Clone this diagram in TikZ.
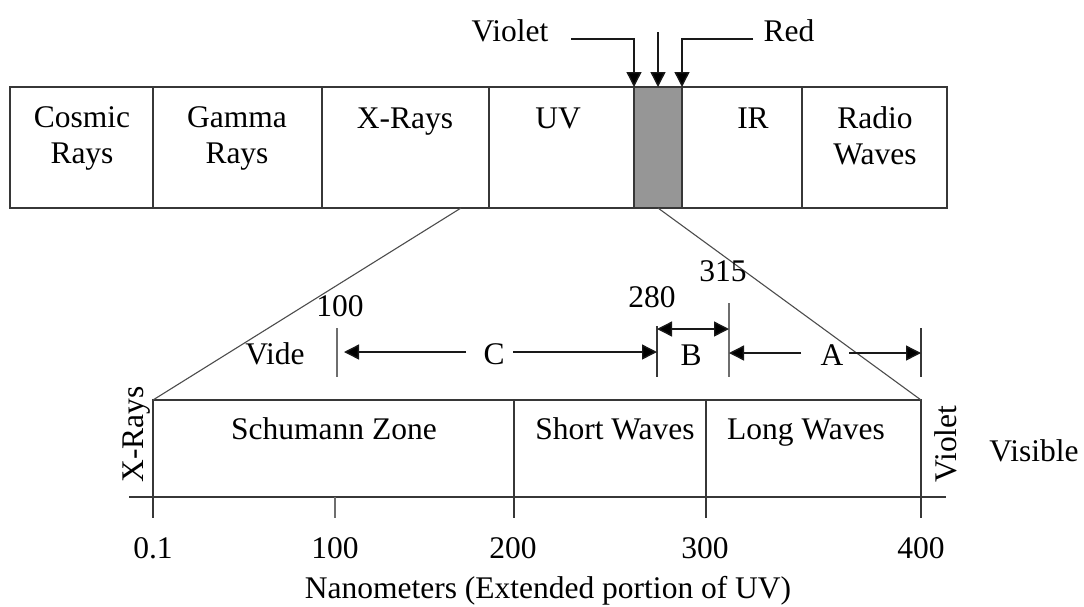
\documentclass[tikz,border=0pt]{standalone}
\usepackage{fontspec}
\setmainfont{Liberation Serif}
\usetikzlibrary{arrows.meta}
\definecolor{lineclr}{RGB}{55,55,55}
\definecolor{visfill}{RGB}{150,150,150}
\definecolor{tickgray}{RGB}{110,110,110}
\begin{document}
\begin{tikzpicture}[x=1pt,y=-1pt,
  ln/.style={line width=1.4pt, draw=lineclr},
  cell/.style={draw=lineclr, line width=1.4pt, anchor=north west, inner sep=0pt, outer sep=0pt},
  topcell/.style={cell, minimum height=121pt},
  botcell/.style={cell, minimum height=97pt},
  lbl/.style={font=\fontsize{31.5}{36}\selectfont, inner sep=0pt, outer sep=0pt, align=center, text=black},
  tip/.tip={Triangle[length=15pt,width=15pt,fill=black]},
  arr/.style={line width=1.4pt, draw=black!90, -tip},
  darr/.style={line width=1.4pt, draw=black!90, tip-tip},
  zoomline/.style={line width=1.1pt, draw=black!70},
  dimtick/.style={line width=1.4pt, draw=lineclr},
  graytick/.style={line width=1.4pt, draw=tickgray}
]
\useasboundingbox (0,0) rectangle (1084,606);

% ---- top spectrum bar ----
\node[topcell, minimum width=143pt] (cosmic) at (10,87) {};
\node[topcell, minimum width=169pt] (gamma) at (153,87) {};
\node[topcell, minimum width=167pt] (xray) at (322,87) {};
\node[topcell, minimum width=145pt] (uv) at (489,87) {};
\node[topcell, minimum width=48pt, fill=visfill] (vis) at (634,87) {};
\node[topcell, minimum width=120pt] (ir) at (682,87) {};
\node[topcell, minimum width=145pt] (radio) at (802,87) {};

\node[lbl, anchor=north] (tcosmic) at (82,106.5) {Cosmic\\Rays};
\node[lbl, anchor=north] (tgamma) at (237,106.5) {Gamma\\Rays};
\node[lbl, anchor=base] (txray) at (405,128) {X-Rays};
\node[lbl, anchor=base] (tuv) at (558,128) {UV};
\node[lbl, anchor=base] (tir) at (753,128) {IR};
\node[lbl, anchor=north] (tradio) at (875,106.5) {Radio\\Waves};

% ---- Violet / Red arrows ----
\node[lbl, anchor=base] (tviolet) at (510,41) {Violet};
\node[lbl, anchor=base] (tred) at (789,41) {Red};
\coordinate (vstart) at (571,39);
\coordinate (mstart) at (658,32);
\coordinate (rstart) at (753,39);
\draw[arr] (vstart) -| (vis.north west);
\draw[arr] (mstart) -- (vis.north);
\draw[arr] (rstart) -| (vis.north east);

% ---- bottom expanded UV box ----
\node[botcell, minimum width=361pt] (schu) at (153,400) {};
\node[botcell, minimum width=192pt] (short) at (514,400) {};
\node[botcell, minimum width=215pt] (long) at (706,400) {};

\node[lbl, anchor=base] (tschu) at (334,439) {Schumann Zone};
\node[lbl, anchor=base] (tshort) at (615,439) {Short Waves};
\node[lbl, anchor=base] (tlong) at (806,439) {Long Waves};

% zoom lines
\coordinate (zstart) at (461,208);
\draw[zoomline] (zstart) -- (schu.north west);
\draw[zoomline] (vis.south) -- (long.north east);

% side labels
\node[lbl, anchor=base, rotate=90] (txside) at (143.5,434.5) {X-Rays};
\node[lbl, anchor=base, rotate=90] (tvside) at (956.5,444) {Violet};
\node[lbl, anchor=base] (tvisible) at (1034,461) {Visible};

% ---- axis ----
\coordinate (axl) at (129,497);
\coordinate (axr) at (946,497);
\draw[ln] (axl) -- (axr);
\coordinate (a0) at (153,518);
\coordinate (a100) at (335,518);
\coordinate (a200) at (514,518);
\coordinate (a300) at (706,518);
\coordinate (a400) at (921,518);
\draw[ln] (schu.south west) -- (a0);
\draw[graytick] (a100 |- axl) -- (a100);
\draw[ln] (schu.south east) -- (a200);
\draw[ln] (short.south east) -- (a300);
\draw[ln] (long.south east) -- (a400);

\node[lbl, anchor=base] (n0) at (153,558) {0.1};
\node[lbl, anchor=base] (n100) at (335,558) {100};
\node[lbl, anchor=base] (n200) at (513,558) {200};
\node[lbl, anchor=base] (n300) at (705,558) {300};
\node[lbl, anchor=base] (n400) at (921,558) {400};
\node[lbl, anchor=base] (tnano) at (548,598) {Nanometers (Extended portion of UV)};

% ---- range markers ----
\coordinate (k100t) at (337,328); \coordinate (k100b) at (337,377);
\coordinate (k280t) at (657,326); \coordinate (k280b) at (657,377);
\coordinate (k315t) at (729,303); \coordinate (k315b) at (729,377);
\coordinate (k400t) at (921,328); \coordinate (k400b) at (921,377);
\draw[graytick] (k100t) -- (k100b);
\draw[dimtick] (k280t) -- (k280b);
\draw[graytick] (k315t) -- (k315b);
\draw[dimtick] (k400t) -- (k400b);

\node[lbl, anchor=base] (t100) at (340,316) {100};
\node[lbl, anchor=base] (t280) at (652,307) {280};
\node[lbl, anchor=base] (t315) at (723,281) {315};
\node[lbl, anchor=base] (tvide) at (275,364) {Vide};
\node[lbl, anchor=base] (tC) at (494,364) {C};
\node[lbl, anchor=base] (tB) at (691,365) {B};
\node[lbl, anchor=base] (tA) at (832,365) {A};

\coordinate (cL) at (466,352);
\coordinate (cR) at (513,352);
\draw[arr, shorten >=7pt] (cL) -- (k100t |- cL);
\draw[arr] (cR) -- (k280t |- cR);
\coordinate (bL) at (657,329);
\draw[darr] (bL) -- (k315t |- bL);
\coordinate (aL) at (801,353);
\coordinate (aR) at (849,353);
\draw[arr] (aL) -- (k315t |- aL);
\draw[arr] (aR) -- (k400t |- aR);
\end{tikzpicture}
\end{document}
